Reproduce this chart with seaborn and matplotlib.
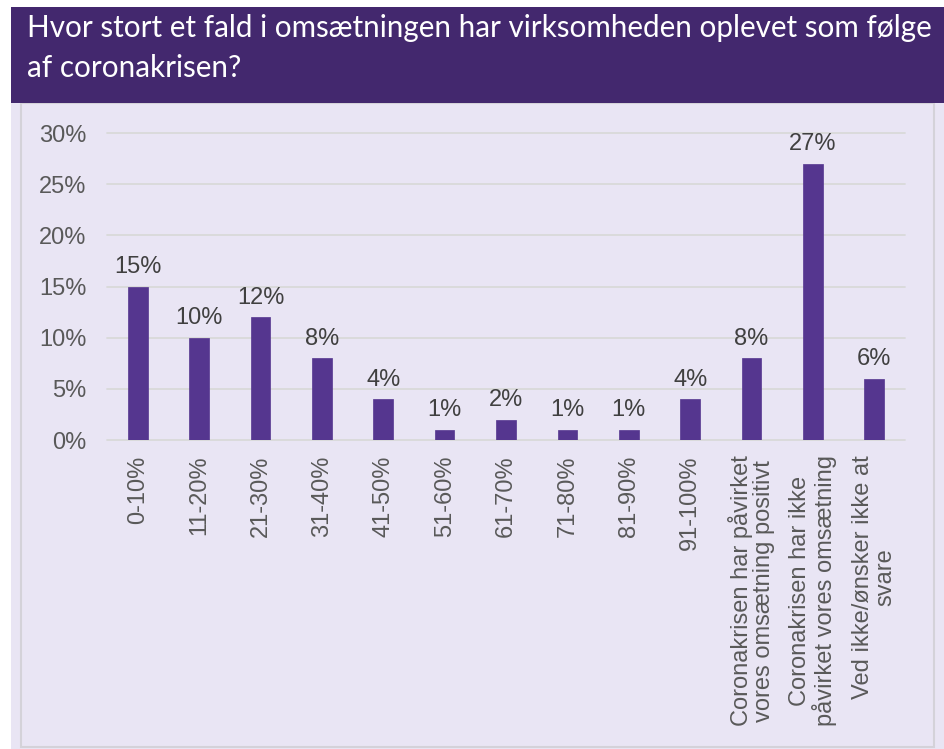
import matplotlib
matplotlib.use('Agg')
import matplotlib.pyplot as plt
from matplotlib.patches import Rectangle
import seaborn as sns
import pandas as pd

# data
categories = ['0-10%', '11-20%', '21-30%', '31-40%', '41-50%', '51-60%', '61-70%',
              '71-80%', '81-90%', '91-100%',
              'Coronakrisen har påvirket\nvores omsætning positivt',
              'Coronakrisen har ikke\npåvirket vores omsætning',
              'Ved ikke/ønsker ikke at\nsvare']
shares = [15, 10, 12, 8, 4, 1, 2, 1, 1, 4, 8, 27, 6]
y_ticks = [0, 5, 10, 15, 20, 25, 30]
title_lines = ['Hvor stort et fald i omsætningen har virksomheden oplevet som følge',
               'af coronakrisen?']

BANNER = '#43286e'
PANEL = '#e9e5f4'
BAR = '#55368f'
GRID = '#d9d9d9'
TXT = '#595959'

sns.set_theme(style='white')
plt.rcParams['font.family'] = ['Liberation Sans', 'DejaVu Sans']

W, H = 944, 749
fig = plt.figure(figsize=(W / 100, H / 100), dpi=100)
fig.patch.set_facecolor('white')


def px_rect(x0, y0, x1, y1, **kw):
    # pixel coords from top-left -> figure fraction
    return Rectangle((x0 / W, 1 - y1 / H), (x1 - x0) / W, (y1 - y0) / H,
                     transform=fig.transFigure, **kw)


fig.patches.append(px_rect(11, 103, 944, 749, facecolor=PANEL, edgecolor='none', zorder=-3))
fig.patches.append(px_rect(21, 103, 934, 747, facecolor='none', edgecolor='#d4d2d9', lw=1.5, zorder=-2))
fig.patches.append(px_rect(11, 7, 944, 103, facecolor=BANNER, edgecolor='none', zorder=-1))

fig.text(27 / W, 1 - 37 / H, title_lines[0], color='white', fontsize=21.3,
         family=['Lato', 'DejaVu Sans'], va='baseline', ha='left')
fig.text(27 / W, 1 - 77 / H, title_lines[1], color='white', fontsize=21.3,
         family=['Lato', 'DejaVu Sans'], va='baseline', ha='left')

ax = fig.add_axes([107 / W, 1 - 440 / H, 798 / W, 307 / H])
ax.patch.set_alpha(0)

df = pd.DataFrame({'cat': categories, 'share': shares})
sns.barplot(data=df, x='cat', y='share', color=BAR, saturation=1, width=0.32, ax=ax,
            zorder=3, edgecolor=BAR, linewidth=0.5)

ax.set_xlim(-0.5, len(categories) - 0.5)
ax.set_ylim(0, 30)
ax.set_yticks(y_ticks)
ax.set_yticklabels([f'{t}%' for t in y_ticks])
for t in y_ticks:
    ax.axhline(t, color=GRID, lw=1.3, zorder=1, clip_on=False)

for i, v in enumerate(shares):
    ax.annotate(f'{v}%', (i, v), xytext=(0, 6), textcoords='offset points',
                ha='center', va='bottom', fontsize=17, color='#404040')

ax.set_xlabel('')
ax.set_ylabel('')
ax.tick_params(axis='both', length=0, labelsize=17, colors=TXT)
ax.tick_params(axis='y', pad=15)
ax.tick_params(axis='x', pad=11)
for lbl in ax.get_xticklabels():
    lbl.set_rotation(90)
    lbl.set_ha('center')
    lbl.set_va('top')
    lbl.set_multialignment('center')
    lbl.set_linespacing(1.05)
for s in ax.spines.values():
    s.set_visible(False)

fig.savefig('out.png', dpi=100, facecolor='white')
